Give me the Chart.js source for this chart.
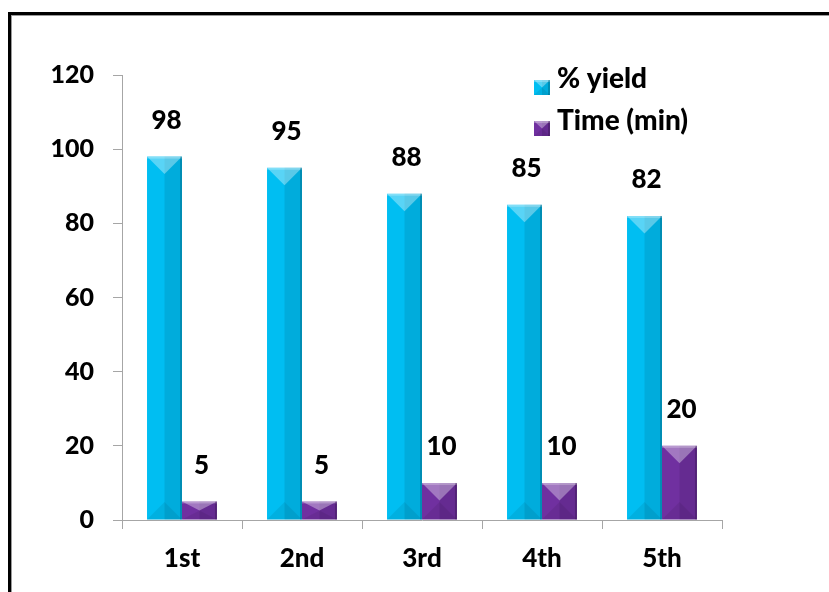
<!DOCTYPE html>
<html>
<head>
<meta charset="utf-8">
<script src="https://cdn.jsdelivr.net/npm/chart.js@4.4.1/dist/chart.umd.min.js"></script>
<style>
  html, body { margin: 0; padding: 0; background: #fff; overflow: hidden; }
  #wrap { position: relative; width: 829px; height: 592px; }
  #frame {
    position: absolute; left: 8px; top: 12px; width: 900px; height: 700px;
    border-top: 3px solid #000; border-left: 3px solid #000;
    box-shadow: inset 1px 1px 0 #9a9a9a; pointer-events: none;
  }
</style>
</head>
<body>
<div id="wrap">
  <canvas id="yield-chart" width="829" height="592"></canvas>
  <div id="frame"></div>
</div>
<script>
// DATA
const runs = ["1st", "2nd", "3rd", "4th", "5th"];
const yieldValues = [98, 95, 88, 85, 82];
const timeValues = [5, 5, 10, 10, 20];
const yMax = 120;
const yStep = 20;

const FONT = "Lato, 'Open Sans', sans-serif";
const WEIGHT = "900";
const CYAN = "rgb(0, 190, 242)";
const PURPLE = "rgb(112, 48, 160)";

// draws the bevel shading over a bar box
const shadeBar = (ctx, l, r, t, b) => {
    const cx = (l + r) / 2;
    const d = Math.min((r - l) / 2, (b - t) / 2);
    ctx.save();
    ctx.fillStyle = "rgba(0,0,0,0.09)";
    ctx.fillRect(cx, t, r - cx, b - t);
    ctx.fillStyle = "rgba(255,255,255,0.35)";
    ctx.beginPath();
    ctx.moveTo(l, t); ctx.lineTo(r, t); ctx.lineTo(cx, t + d); ctx.closePath();
    ctx.fill();
    ctx.fillStyle = "rgba(255,255,255,0.25)";
    ctx.fillRect(l, t, r - l, 2);
    ctx.fillStyle = "rgba(0,0,0,0.07)";
    ctx.beginPath();
    ctx.moveTo(l, b); ctx.lineTo(r, b); ctx.lineTo(cx, b - d); ctx.closePath();
    ctx.fill();
    ctx.fillStyle = "rgba(0,0,0,0.18)";
    ctx.fillRect(r - 2, t, 2, b - t);
    ctx.restore();
};

const bevelPlugin = {
    id: "bevel",
    afterDatasetsDraw(chart) {
        const ctx = chart.ctx;
        chart.data.datasets.forEach((ds, di) => {
            const meta = chart.getDatasetMeta(di);
            meta.data.forEach((bar, i) => {
                const l = bar.x - bar.width / 2;
                const r = bar.x + bar.width / 2;
                shadeBar(ctx, l, r, bar.y, bar.base);
                // value label above the bar
                ctx.save();
                ctx.fillStyle = "#000";
                ctx.font = WEIGHT + " 26px " + FONT;
                ctx.textAlign = "center";
                ctx.textBaseline = "middle";
                ctx.fillText(String(ds.data[i]), bar.x + 2, bar.y - 36);
                ctx.restore();
            });
        });
    },
    afterDraw(chart) {
        // legend inside the plot, top right
        const ctx = chart.ctx;
        const x = 534, y0 = 80, gap = 41;
        chart.data.datasets.forEach((ds, di) => {
            const y = y0 + di * gap;
            ctx.save();
            ctx.fillStyle = ds.backgroundColor;
            ctx.fillRect(x, y, 16, 15);
            shadeBar(ctx, x, x + 16, y, y + 15);
            ctx.fillStyle = "#000";
            ctx.font = WEIGHT + " 28px " + FONT;
            ctx.textAlign = "left";
            ctx.textBaseline = "alphabetic";
            ctx.fillText(ds.label, x + 23, y + 8 + di);
            ctx.restore();
        });
    },
};

const chart = new Chart(document.getElementById("yield-chart"), {
    type: "bar",
    data: {
        labels: runs,
        datasets: [
            { label: "% yield", data: yieldValues, backgroundColor: CYAN, borderWidth: 0 },
            { label: "Time (min)", data: timeValues, backgroundColor: PURPLE, borderWidth: 0 },
        ],
    },
    options: {
        responsive: false,
        animation: false,
        categoryPercentage: 0.583,
        barPercentage: 1,
        layout: { padding: { left: 0, top: 75, right: 107, bottom: 0 } },
        plugins: { legend: { display: false }, tooltip: { enabled: false } },
        scales: {
            x: {
                grid: { drawOnChartArea: false, offset: true, color: "#a6a6a6", tickLength: 9 },
                border: { color: "#a6a6a6" },
                ticks: { color: "#000", font: { family: FONT, size: 26, weight: WEIGHT }, padding: 14 },
                afterFit: (scale) => { scale.height = 72; },
            },
            y: {
                min: 0,
                max: yMax,
                ticks: { stepSize: yStep, color: "#000", font: { family: FONT, size: 25, weight: WEIGHT }, padding: 19 },
                grid: { drawOnChartArea: false, color: "#a6a6a6", tickLength: 9 },
                border: { color: "#a6a6a6" },
                afterFit: (scale) => { scale.width = 122; },
            },
        },
    },
    plugins: [bevelPlugin],
});
</script>
</body>
</html>
